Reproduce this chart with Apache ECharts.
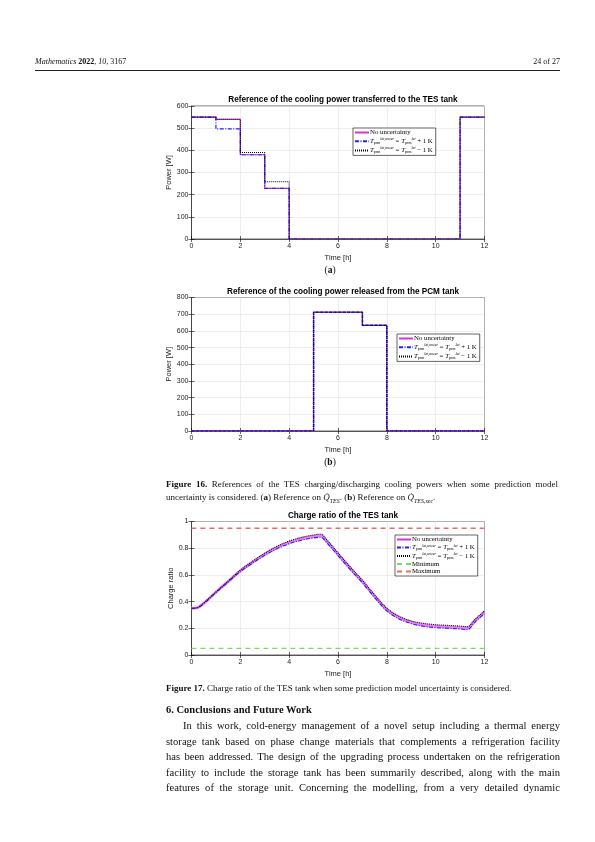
<!DOCTYPE html>
<html>
<head>
<meta charset="utf-8">
<script src="https://cdn.jsdelivr.net/npm/echarts@6/dist/echarts.min.js"></script>
<style>
  html,body{margin:0;padding:0;background:#fff;}
  #page{position:relative;width:595px;height:842px;overflow:hidden;}
  #chart{position:absolute;left:0;top:0;width:595px;height:842px;}
  .t{position:absolute;font-family:"Liberation Serif","DejaVu Serif",serif;color:#111;white-space:nowrap;}
  .j{text-align:justify;text-align-last:justify;white-space:normal;}
</style>
</head>
<body>
<div id="page">
  <div id="chart"></div>
  <div class="t" style="left:35px;top:57px;font-size:8px;line-height:10px;"><i>Mathematics</i> <b>2022</b>, <i>10</i>, 3167</div>
  <div class="t" style="left:500px;width:60px;top:57px;font-size:8px;line-height:10px;text-align:right;">24 of 27</div>
  <div style="position:absolute;left:35px;top:69.5px;width:525px;height:0.8px;background:#222;"></div>

  <div class="t" style="left:300px;width:60px;top:264px;font-size:9.5px;line-height:12px;text-align:center;">(<b>a</b>)</div>
  <div class="t" style="left:300px;width:60px;top:456px;font-size:9.5px;line-height:12px;text-align:center;">(<b>b</b>)</div>

  <div class="t j" style="left:166px;width:392px;top:478px;font-size:9px;line-height:13px;"><b>Figure 16.</b> References of the TES charging/discharging cooling powers when some prediction model</div>
  <div class="t" style="left:166px;top:491px;font-size:9px;line-height:13px;">uncertainty is considered. (<b>a</b>) Reference on <i>Q&#775;<sub style="font-size:6px;">TES</sub></i>. (<b>b</b>) Reference on <i>Q&#775;<sub style="font-size:6px;">TES,sec</sub></i>.</div>

  <div class="t" style="left:166px;top:682px;font-size:9px;line-height:13px;"><b>Figure 17.</b> Charge ratio of the TES tank when some prediction model uncertainty is considered.</div>

  <div class="t" style="left:166px;top:703px;font-size:10.5px;line-height:14px;font-weight:bold;">6. Conclusions and Future Work</div>

  <div class="t j" style="left:183px;width:377px;top:718px;font-size:10.6px;line-height:15.5px;">In this work, cold-energy management of a novel setup including a thermal energy</div>
  <div class="t j" style="left:166px;width:394px;top:733.5px;font-size:10.6px;line-height:15.5px;">storage tank based on phase change materials that complements a refrigeration facility</div>
  <div class="t j" style="left:166px;width:394px;top:749px;font-size:10.6px;line-height:15.5px;">has been addressed. The design of the upgrading process undertaken on the refrigeration</div>
  <div class="t j" style="left:166px;width:394px;top:764.5px;font-size:10.6px;line-height:15.5px;">facility to include the storage tank has been summarily described, along with the main</div>
  <div class="t j" style="left:166px;width:394px;top:780px;font-size:10.6px;line-height:15.5px;">features of the storage unit. Concerning the modelling, from a very detailed dynamic</div>
</div>
<script>
// ---------------- DATA ----------------
var xTicks = [0, 2, 4, 6, 8, 10, 12];
var hours = [0, 1, 2, 3, 4, 5, 6, 7, 8, 9, 10, 11, 12];

// Fig 16(a): cooling power transferred to the TES tank [W] (value held from each hour)
var tesNoUnc   = [550, 540, 380, 228, 0, 0, 0, 0, 0, 0, 0, 550, 550];
var tesPlus1K  = [550, 497, 380, 228, 0, 0, 0, 0, 0, 0, 0, 550, 550];
var tesMinus1K = [550, 540, 390, 258, 0, 0, 0, 0, 0, 0, 0, 550, 550];

// Fig 16(b): cooling power released from the PCM tank [W]
var pcmNoUnc   = [0, 0, 0, 0, 0, 712, 712, 633, 0, 0, 0, 0, 0];
var pcmPlus1K  = [0, 0, 0, 0, 0, 712, 712, 633, 0, 0, 0, 0, 0];
var pcmMinus1K = [0, 0, 0, 0, 0, 712, 712, 633, 0, 0, 0, 0, 0];

// Fig 17: charge ratio of the TES tank
var tCR = [0, 0.25, 0.5, 1, 1.5, 2, 2.5, 3, 3.5, 4, 4.5, 5, 5.3, 5.5, 6, 6.5, 7, 7.5, 8, 8.5, 9, 9.5, 10, 10.5, 11, 11.3, 11.6, 12];
var crNoUnc   = [0.35, 0.355, 0.387, 0.47, 0.55, 0.63, 0.695, 0.755, 0.805, 0.843, 0.87, 0.888, 0.893, 0.86, 0.755, 0.65, 0.55, 0.44, 0.34, 0.28, 0.245, 0.225, 0.215, 0.21, 0.205, 0.20, 0.255, 0.32];
var crPlus1K  = [0.35, 0.355, 0.385, 0.468, 0.547, 0.625, 0.688, 0.747, 0.796, 0.833, 0.86, 0.877, 0.882, 0.85, 0.745, 0.64, 0.54, 0.43, 0.33, 0.27, 0.235, 0.215, 0.205, 0.20, 0.195, 0.19, 0.245, 0.31];
var crMinus1K = [0.35, 0.355, 0.389, 0.472, 0.553, 0.635, 0.702, 0.763, 0.814, 0.853, 0.881, 0.899, 0.905, 0.872, 0.765, 0.66, 0.56, 0.45, 0.35, 0.29, 0.255, 0.237, 0.227, 0.222, 0.217, 0.212, 0.265, 0.33];
var crMinimum = 0.05;
var crMaximum = 0.95;

var titles = [
  'Reference of the cooling power transferred to the TES tank',
  'Reference of the cooling power released from the PCM tank',
  'Charge ratio of the TES tank'
];
var yNames = ['Power [W]', 'Power [W]', 'Charge ratio'];
var xName = 'Time [h]';
var nNo = 'No uncertainty';
var nPlus = 'T pcm lat,uncer = T pcm lat + 1 K';
var nMinus = 'T pcm lat,uncer = T pcm lat - 1 K';
var nMin = 'Minimum';
var nMax = 'Maximum';

// ---------------- BUILD ----------------
function pairs(xs, ys) { return xs.map(function (x, i) { return [x, ys[i]]; }); }

var grids = [
  {left: 191.5, top: 106, width: 293, height: 133},
  {left: 191.5, top: 297.5, width: 293, height: 133.5},
  {left: 191.5, top: 521.5, width: 293, height: 133.5}
];
var yCfg = [{min: 0, max: 600, interval: 100}, {min: 0, max: 800, interval: 100}, {min: 0, max: 1, interval: 0.2}];
var titleTops = [91, 282.5, 507];
var legendPos = [{left: 353, top: 128}, {left: 397, top: 334}, {left: 395, top: 535}];

var SANS = 'Liberation Sans, Arial, sans-serif';
var SERIF = 'Liberation Serif, DejaVu Serif, serif';

var xAxes = [], yAxes = [], titleArr = [], legends = [], series = [];
grids.forEach(function (g, k) {
  g.show = true; g.borderColor = '#000'; g.borderWidth = 0.6; g.backgroundColor = '#fff';
  titleArr.push({text: titles[k], left: 338, textAlign: 'center', top: titleTops[k],
    textStyle: {fontFamily: SANS, fontSize: 8.2, fontWeight: 'bold', color: '#000'}});
  xAxes.push({type: 'value', gridIndex: k, min: 0, max: 12, interval: 2, name: xName,
    nameLocation: 'middle', nameGap: 15, nameTextStyle: {fontFamily: SANS, fontSize: 7.5, color: '#222'},
    axisLine: {lineStyle: {color: '#000', width: 0.6}}, axisTick: {inside: true, length: 3, lineStyle: {color: '#000', width: 0.6}},
    axisLabel: {fontFamily: SANS, fontSize: 7, color: '#222', margin: 4},
    splitLine: {show: true, lineStyle: {color: '#e3e3e3', width: 0.6}}});
  xAxes.push({type: 'value', gridIndex: k, min: 0, max: 12, interval: 2, position: 'top',
    axisLine: {show: false}, axisTick: {inside: true, length: 3, lineStyle: {color: '#000', width: 0.6}},
    axisLabel: {show: false}, splitLine: {show: false}});
  yAxes.push({type: 'value', gridIndex: k, min: yCfg[k].min, max: yCfg[k].max, interval: yCfg[k].interval,
    name: yNames[k], nameLocation: 'middle', nameGap: k === 2 ? 12 : 13,
    nameTextStyle: {fontFamily: SANS, fontSize: 7.5, color: '#222'},
    axisLine: {show: true, lineStyle: {color: '#000', width: 0.6}}, axisTick: {show: true, inside: true, length: 3, lineStyle: {color: '#000', width: 0.6}},
    axisLabel: {fontFamily: SANS, fontSize: 7, color: '#222', margin: 3},
    splitLine: {show: true, lineStyle: {color: '#e3e3e3', width: 0.6}}});
  yAxes.push({type: 'value', gridIndex: k, min: yCfg[k].min, max: yCfg[k].max, interval: yCfg[k].interval, position: 'right',
    axisLine: {show: false}, axisTick: {show: true, inside: true, length: 3, lineStyle: {color: '#000', width: 0.6}},
    axisLabel: {show: false}, splitLine: {show: false}});
  var names = k === 2 ? [nNo, nPlus, nMinus, nMin, nMax] : [nNo, nPlus, nMinus];
  legends.push({data: names, orient: 'vertical', left: legendPos[k].left, top: legendPos[k].top,
    backgroundColor: '#fff', borderColor: '#222', borderWidth: 0.7, padding: [1, 3, 1, 1],
    itemWidth: 14, itemHeight: 7, itemGap: k === 2 ? 0.5 : 1.2, selectedMode: false,
    itemStyle: {opacity: 0, borderWidth: 0},
    formatter: function (name) {
      if (name === nNo) return '{r|No uncertainty}';
      if (name === nPlus) return '{i|T}{sb|pcm}{sp|lat,uncer}{r| = }{i|T}{sb|pcm}{sp|lat}{r| + 1 K}';
      if (name === nMinus) return '{i|T}{sb|pcm}{sp|lat,uncer}{r| = }{i|T}{sb|pcm}{sp|lat}{r| \u2212 1 K}';
      return '{r|' + name + '}';
    },
    textStyle: {fontFamily: SERIF, fontSize: 6.5, color: '#000', padding: [0, 0, 0, -4],
      rich: {
        r: {fontFamily: SERIF, fontSize: 6.8, color: '#000', lineHeight: 8},
        i: {fontFamily: SERIF, fontStyle: 'italic', fontSize: 6.8, color: '#000', lineHeight: 8},
        sb: {fontFamily: SERIF, fontSize: 3.8, color: '#000', lineHeight: 8, verticalAlign: 'bottom'},
        sp: {fontFamily: SERIF, fontStyle: 'italic', fontSize: 3.8, color: '#000', lineHeight: 8, verticalAlign: 'top'}
      }}});
});

function ser(name, k, data, color, type, width, step, z) {
  return {name: name, type: 'line', xAxisIndex: 2 * k, yAxisIndex: 2 * k, data: data,
    step: step || false, smooth: step ? false : 0.35, symbol: 'none', z: z, animation: false,
    lineStyle: {color: color, type: type, width: width}, itemStyle: {color: color}};
}
var MAG = '#d633d6', BLUE = '#2020ff', BLK = '#000';
var DASHDOT = [4, 1.5, 1, 1.5], DOT = [1, 1];

series.push(ser(nNo, 0, pairs(hours, tesNoUnc), MAG, 'solid', 1.2, 'end', 2));
series.push(ser(nPlus, 0, pairs(hours, tesPlus1K), BLUE, DASHDOT, 1.2, 'end', 3));
series.push(ser(nMinus, 0, pairs(hours, tesMinus1K), BLK, DOT, 1.1, 'end', 4));

series.push(ser(nNo, 1, pairs(hours, pcmNoUnc), MAG, 'solid', 1.3, 'end', 2));
series.push(ser(nPlus, 1, pairs(hours, pcmPlus1K), BLUE, [3, 1.5], 1.5, 'end', 3));
series.push(ser(nMinus, 1, pairs(hours, pcmMinus1K), BLK, DOT, 1.1, 'end', 4));

series.push(ser(nNo, 2, pairs(tCR, crNoUnc), '#f07cf0', 'solid', 3, false, 2));
series.push(ser(nPlus, 2, pairs(tCR, crPlus1K), BLUE, DASHDOT, 1.1, false, 3));
series.push(ser(nMinus, 2, pairs(tCR, crMinus1K), BLK, DOT, 1.1, false, 4));
series.push(ser(nMin, 2, [[0, crMinimum], [12, crMinimum]], '#77dd55', [5, 4], 1.3, false, 1));
series.push(ser(nMax, 2, [[0, crMaximum], [12, crMaximum]], '#e86a6a', [5, 4], 1.5, false, 1));

var chart = echarts.init(document.getElementById('chart'), null, {renderer: 'canvas'});
chart.setOption({
  animation: false,
  title: titleArr,
  grid: grids,
  xAxis: xAxes,
  yAxis: yAxes,
  legend: legends,
  series: series
});
</script>
</body>
</html>
